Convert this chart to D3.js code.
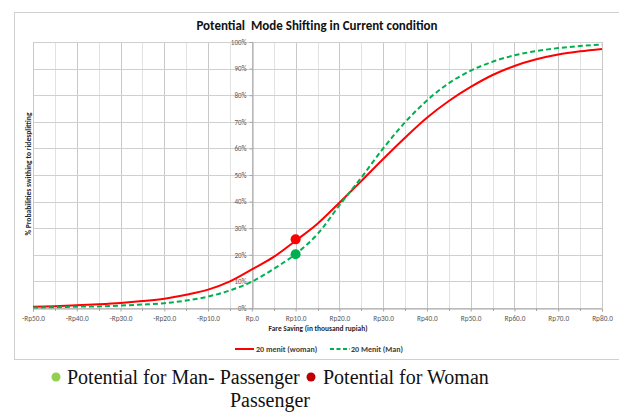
<!DOCTYPE html>
<html>
<head>
<meta charset="utf-8">
<script src="https://cdn.jsdelivr.net/npm/d3@7"></script>
<style>
  body { margin: 0; background: #fff; }
  svg { display: block; }
</style>
</head>
<body>
<div id="chart"></div>
<script>
// values (fare saving in thousand rupiah, share in %)
const fareSaving = [-50, -45, -40, -35, -30, -25, -20, -15, -10, -5, 0, 5, 10, 15, 20, 25, 30, 35, 40, 45, 50, 55, 60, 65, 70, 75, 80];
const womanPct = [0.5, 0.7, 1.0, 1.4, 1.9, 2.6, 3.5, 5.0, 6.9, 10.0, 14.5, 19.2, 25.3, 31.7, 39.6, 47.7, 56.0, 64.0, 71.5, 77.8, 83.1, 87.6, 91.0, 93.5, 95.3, 96.5, 97.4];
const manPct = [0.2, 0.3, 0.5, 0.6, 0.9, 1.3, 1.8, 2.8, 4.3, 6.6, 9.9, 14.7, 20.3, 27.8, 38.6, 49.0, 60.0, 69.8, 78.0, 84.5, 89.2, 92.6, 95.0, 96.6, 97.7, 98.5, 99.0];
const xTicks = [-50, -40, -30, -20, -10, 0, 10, 20, 30, 40, 50, 60, 70, 80];
const yTicks = [0, 10, 20, 30, 40, 50, 60, 70, 80, 90, 100];
const potentialPoints = [
  { who: "woman", x: 10, y: 25.8 },
  { who: "man", x: 10, y: 20.2 }
];

const width = 619, height = 414;
const plot = { left: 33, right: 602, top: 42, bottom: 308 };

const svg = d3.select("#chart").append("svg")
  .attr("width", width)
  .attr("height", height);

const x = d3.scaleLinear().domain([-50, 80]).range([plot.left, plot.right]);
const y = d3.scaleLinear().domain([0, 100]).range([plot.bottom, plot.top]);

const labelFont = "Carlito, 'Open Sans', 'Liberation Sans', sans-serif";
const serifFont = "'Liberation Serif', Tinos, 'Times New Roman', 'DejaVu Serif', 'Noto Serif', serif";

// chart frame (cut off at the right edge like the screenshot)
svg.append("rect")
  .attr("x", 14.5).attr("y", 12.5)
  .attr("width", 640).attr("height", 347)
  .attr("fill", "none")
  .attr("stroke", "#d0d0d0");

// title
svg.append("text")
  .attr("x", 317).attr("y", 30)
  .attr("text-anchor", "middle")
  .attr("font-family", labelFont)
  .attr("font-weight", "bold")
  .attr("font-size", 13)
  .attr("fill", "#111")
  .attr("xml:space", "preserve")
  .text("Potential  Mode Shifting in Current condition");

// vertical grid lines every 5, darker every 10
const xGrid = d3.range(-50, 81, 5);
svg.append("g").selectAll("line")
  .data(xGrid)
  .enter().append("line")
  .attr("x1", d => Math.round(x(d)) + 0.5)
  .attr("x2", d => Math.round(x(d)) + 0.5)
  .attr("y1", plot.top).attr("y2", plot.bottom)
  .attr("stroke", d => d % 10 === 0 ? "#c8c8c8" : "#e2e2e2");

// horizontal grid lines
svg.append("g").selectAll("line")
  .data(yTicks)
  .enter().append("line")
  .attr("x1", plot.left).attr("x2", plot.right)
  .attr("y1", d => Math.round(y(d)) + 0.5)
  .attr("y2", d => Math.round(y(d)) + 0.5)
  .attr("stroke", "#cfcfcf");

// y axis sits at Rp.0
const yAxis = d3.axisLeft(y)
  .tickValues(yTicks)
  .tickSize(3)
  .tickFormat(d => d + "%");
svg.append("g")
  .attr("transform", `translate(${Math.round(x(0)) + 0.5},0)`)
  .call(yAxis)
  .call(g => g.select(".domain").attr("stroke", "#a6a6a6"))
  .call(g => g.selectAll(".tick line").attr("stroke", "#a6a6a6"))
  .call(g => g.selectAll("text")
    .attr("font-family", labelFont)
    .attr("font-size", 7)
    .attr("fill", "#595959"));

// x axis at the bottom
const xAxis = d3.axisBottom(x)
  .tickValues(xTicks)
  .tickSize(3)
  .tickFormat(d => d < 0 ? `-Rp${Math.abs(d)}.0` : (d === 0 ? "Rp.0" : `Rp${d}.0`));
svg.append("g")
  .attr("transform", `translate(0,${Math.round(plot.bottom) + 0.5})`)
  .call(xAxis)
  .call(g => g.select(".domain").attr("stroke", "#a6a6a6"))
  .call(g => g.selectAll(".tick line").attr("stroke", "#a6a6a6"))
  .call(g => g.selectAll("text")
    .attr("dy", "0.85em")
    .attr("font-family", labelFont)
    .attr("font-size", 7.3)
    .attr("fill", "#595959"));

// minor ticks on the x axis
svg.append("g").selectAll("line")
  .data(xGrid.filter(d => d % 10 !== 0))
  .enter().append("line")
  .attr("x1", d => Math.round(x(d)) + 0.5)
  .attr("x2", d => Math.round(x(d)) + 0.5)
  .attr("y1", plot.bottom).attr("y2", plot.bottom + 3)
  .attr("stroke", "#a6a6a6");

// axis titles
svg.append("text")
  .attr("transform", "translate(31,174) rotate(-90)")
  .attr("text-anchor", "middle")
  .attr("font-family", labelFont)
  .attr("font-weight", "bold")
  .attr("font-size", 7.6)
  .attr("fill", "#262626")
  .text("% Probabilities swithing to ridesplitting");

svg.append("text")
  .attr("x", 318).attr("y", 331)
  .attr("text-anchor", "middle")
  .attr("font-family", labelFont)
  .attr("font-weight", "bold")
  .attr("font-size", 7.4)
  .attr("fill", "#262626")
  .text("Fare Saving (in thousand rupiah)");

// curves
const line = d3.line()
  .x((d, i) => x(fareSaving[i]))
  .y(d => y(d))
  .curve(d3.curveMonotoneX);

svg.append("path")
  .datum(womanPct)
  .attr("fill", "none")
  .attr("stroke", "#ff0000")
  .attr("stroke-width", 2)
  .attr("d", line);

svg.append("path")
  .datum(manPct)
  .attr("fill", "none")
  .attr("stroke", "#00b050")
  .attr("stroke-width", 2)
  .attr("stroke-dasharray", "5,3")
  .attr("d", line);

// potential points
svg.append("g").selectAll("circle")
  .data(potentialPoints)
  .enter().append("circle")
  .attr("cx", d => x(d.x))
  .attr("cy", d => y(d.y))
  .attr("r", 5)
  .attr("fill", d => d.who === "woman" ? "#ff0000" : "#00b050");

// legend
const legend = svg.append("g")
  .attr("font-family", labelFont)
  .attr("font-size", 8)
  .attr("font-weight", "bold")
  .attr("fill", "#404040");

legend.append("line")
  .attr("x1", 235).attr("x2", 254).attr("y1", 349).attr("y2", 349)
  .attr("stroke", "#ff0000").attr("stroke-width", 2);
legend.append("text")
  .attr("x", 256).attr("y", 352)
  .text("20 menit (woman)");

legend.append("line")
  .attr("x1", 330).attr("x2", 350).attr("y1", 349).attr("y2", 349)
  .attr("stroke", "#00b050").attr("stroke-width", 2)
  .attr("stroke-dasharray", "4,2.5");
legend.append("text")
  .attr("x", 351).attr("y", 352)
  .text("20 Menit (Man)");

// caption under the chart
const caption = svg.append("g")
  .attr("font-family", serifFont)
  .attr("font-size", 20)
  .attr("fill", "#111");

caption.append("circle")
  .attr("cx", 56).attr("cy", 377).attr("r", 4.5)
  .attr("fill", "#92d050");
caption.append("text")
  .attr("x", 67).attr("y", 384)
  .text("Potential for Man- Passenger");
caption.append("circle")
  .attr("cx", 311).attr("cy", 377).attr("r", 4.5)
  .attr("fill", "#c00000");
caption.append("text")
  .attr("x", 323).attr("y", 384)
  .text("Potential for Woman");
caption.append("text")
  .attr("x", 270).attr("y", 407)
  .attr("text-anchor", "middle")
  .text("Passenger");
</script>
</body>
</html>
